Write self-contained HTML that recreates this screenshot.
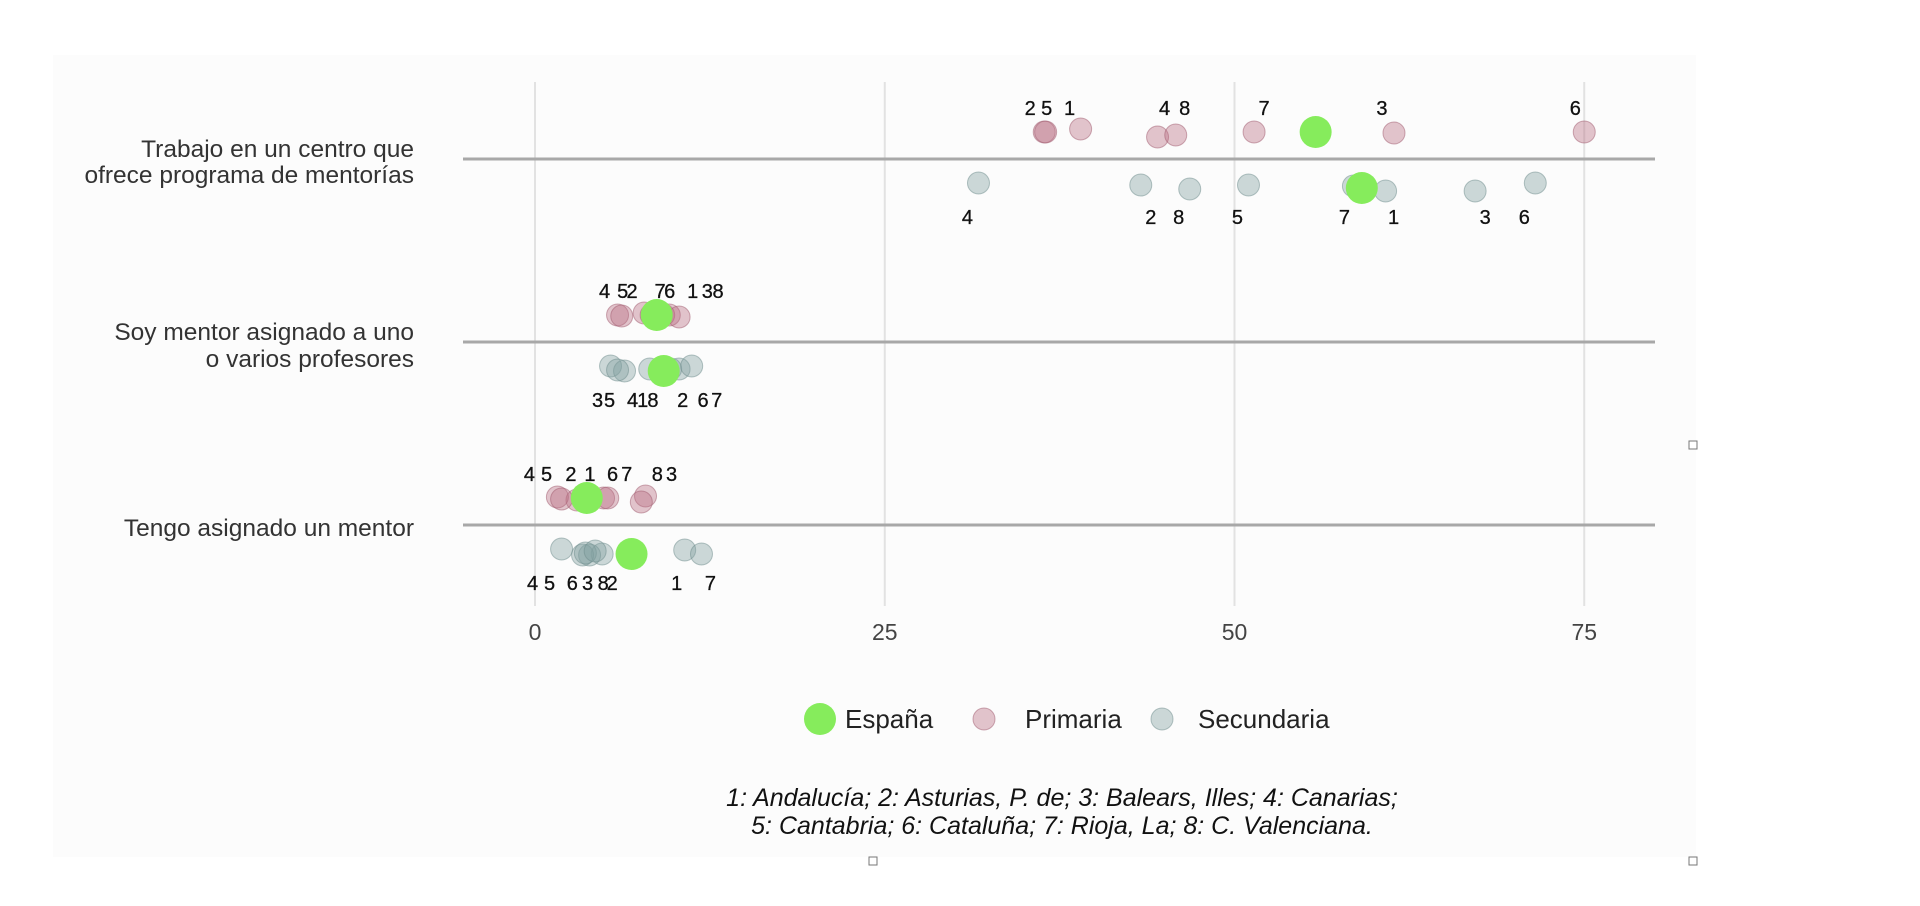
<!DOCTYPE html>
<html><head><meta charset="utf-8"><style>
html,body{margin:0;padding:0;background:#fff;width:1920px;height:906px;overflow:hidden}
svg{display:block;font-family:"Liberation Sans",Arial,sans-serif}
</style></head><body>
<svg id="chart" width="1920" height="906" viewBox="0 0 1920 906">
<rect x="53" y="55" width="1643" height="802" fill="#fcfcfc"/>
<g id="grid"></g><g id="marks"></g><g id="labels"></g>
<g font-size="26" fill="#222">
 <circle cx="820" cy="719" r="16" fill="#86ec5c"/>
 <text x="845" y="728">España</text>
 <circle cx="984" cy="719" r="11" fill="rgba(185,110,130,0.4)" stroke="rgba(160,90,110,0.5)"/>
 <text x="1025" y="728">Primaria</text>
 <circle cx="1162" cy="719" r="11" fill="rgba(130,160,160,0.4)" stroke="rgba(110,140,140,0.5)"/>
 <text x="1198" y="728">Secundaria</text>
</g>
<g font-size="25" font-style="italic" fill="#111" text-anchor="middle">
 <text x="1062" y="806">1: Andalucía; 2: Asturias, P. de; 3: Balears, Illes; 4: Canarias;</text>
 <text x="1062" y="834">5: Cantabria; 6: Cataluña; 7: Rioja, La; 8: C. Valenciana.</text>
</g>
<rect x="1689" y="441" width="8" height="8" fill="#fff" stroke="#777"/>
<rect x="869" y="857" width="8" height="8" fill="#fff" stroke="#777"/>
<rect x="1689" y="857" width="8" height="8" fill="#fff" stroke="#777"/>
</svg>
<script>
const categories = ["Trabajo en un centro que|ofrece programa de mentorías","Soy mentor asignado a uno |o varios profesores","Tengo asignado un mentor"];
const regionIds = [1,2,3,4,5,6,7,8];
const espanaPrimaria = [55.8, 8.7, 3.7];
const espanaSecundaria = [59.1, 9.2, 6.9];
const primaria1 = [39.0,36.4,61.4,44.5,36.5,75.0,51.4,45.8];
const primaria2 = [9.2,7.8,9.6,5.9,6.2,8.7,8.3,10.3];
const primaria3 = [3.5,3.0,7.9,1.6,1.9,4.9,5.2,7.6];
const secundaria1 = [60.8,43.3,67.2,31.7,51.0,71.5,58.5,46.8];
const secundaria2 = [8.2,9.7,5.4,6.4,5.9,10.3,11.2,9.0];
const secundaria3 = [10.7,4.8,3.9,1.9,3.4,3.6,11.9,4.3];
const xTicks = [0,25,50,75];

const NS="http://www.w3.org/2000/svg";
const X0=535, PX=13.99;
function xs(v){return X0+v*PX;}
const rowY=[159,342,525];
function mk(tag,attrs,parent){const e=document.createElementNS(NS,tag);for(const k in attrs)e.setAttribute(k,attrs[k]);parent.appendChild(e);return e;}
const grid=document.getElementById('grid'), marks=document.getElementById('marks'), labels=document.getElementById('labels');
xTicks.forEach(t=>{
  const l=mk('line',{x1:xs(t),x2:xs(t),y1:82,y2:606,stroke:'#e2e2e2','stroke-width':2},grid);
  
  
  const tx=mk('text',{x:xs(t),y:640,'text-anchor':'middle','font-size':23,fill:'#444'},grid);
  tx.textContent=t;
  
  
});
const catBase=[[-2,24],[-2,25],[11]];
categories.forEach((c,i)=>{
  const l=mk('line',{x1:463,x2:1655,y1:rowY[i],y2:rowY[i],stroke:'#a8a8a8','stroke-width':3},grid);
  
  
  const parts=c.split('|');
  parts.forEach((p,j)=>{
    const t=mk('text',{x:414,y:rowY[i]+catBase[i][j],'text-anchor':'end','font-size':24.5,fill:'#333'},labels);
    t.textContent=p;
    
    
  });
});
const prim=[primaria1,primaria2,primaria3], sec=[secundaria1,secundaria2,secundaria3];
const pDy=[[-3,0,1,5,0,0,0,3],[0,-2,0,0,1,0,0,2],[0,2,-2,-1,1,0,0,4]];
const sDy=[[5,-1,5,-3,-1,-3,0,3],[0,0,-3,2,1,0,-3,0],[-2,2,3,-3,3,1,2,-1]];
const pLabDx=[[-11,-14,-12,7,1,-9,10,9],[29,-12,38,-13,1,13,9,39],[6,-6,26,-28,-15,9,19,16]];
const sLabDx=[[8,10,10,-11,-11,-11,-9,-11],[-7,12,-13,8,-8,24,25,-8],[-8,10,-2,-29,-33,-13,9,8]];
for(let r=0;r<3;r++){
  for(let i=0;i<8;i++){
    const c=mk('circle',{cx:xs(prim[r][i]),cy:rowY[r]-27+pDy[r][i],r:11,fill:'rgba(185,110,130,0.4)',stroke:'rgba(160,90,110,0.5)','stroke-width':1},marks);
    
    
    const t=mk('text',{x:xs(prim[r][i])+pLabDx[r][i],y:rowY[r]-44,'text-anchor':'middle','font-size':20,fill:'#111',stroke:'#111','stroke-width':0.3},labels);
    t.textContent=regionIds[i];
    
    
    const s=mk('circle',{cx:xs(sec[r][i]),cy:rowY[r]+27+sDy[r][i],r:11,fill:'rgba(130,160,160,0.4)',stroke:'rgba(110,140,140,0.5)','stroke-width':1},marks);
    
    
    const t2=mk('text',{x:xs(sec[r][i])+sLabDx[r][i],y:rowY[r]+65,'text-anchor':'middle','font-size':20,fill:'#111',stroke:'#111','stroke-width':0.3},labels);
    t2.textContent=regionIds[i];
    
    
  }
  const g1=mk('circle',{cx:xs(espanaPrimaria[r]),cy:rowY[r]-27,r:16,fill:'#86ec5c'},marks);
  
  
  const g2=mk('circle',{cx:xs(espanaSecundaria[r]),cy:rowY[r]+29,r:16,fill:'#86ec5c'},marks);
  
  
}
</script>
</body></html>
